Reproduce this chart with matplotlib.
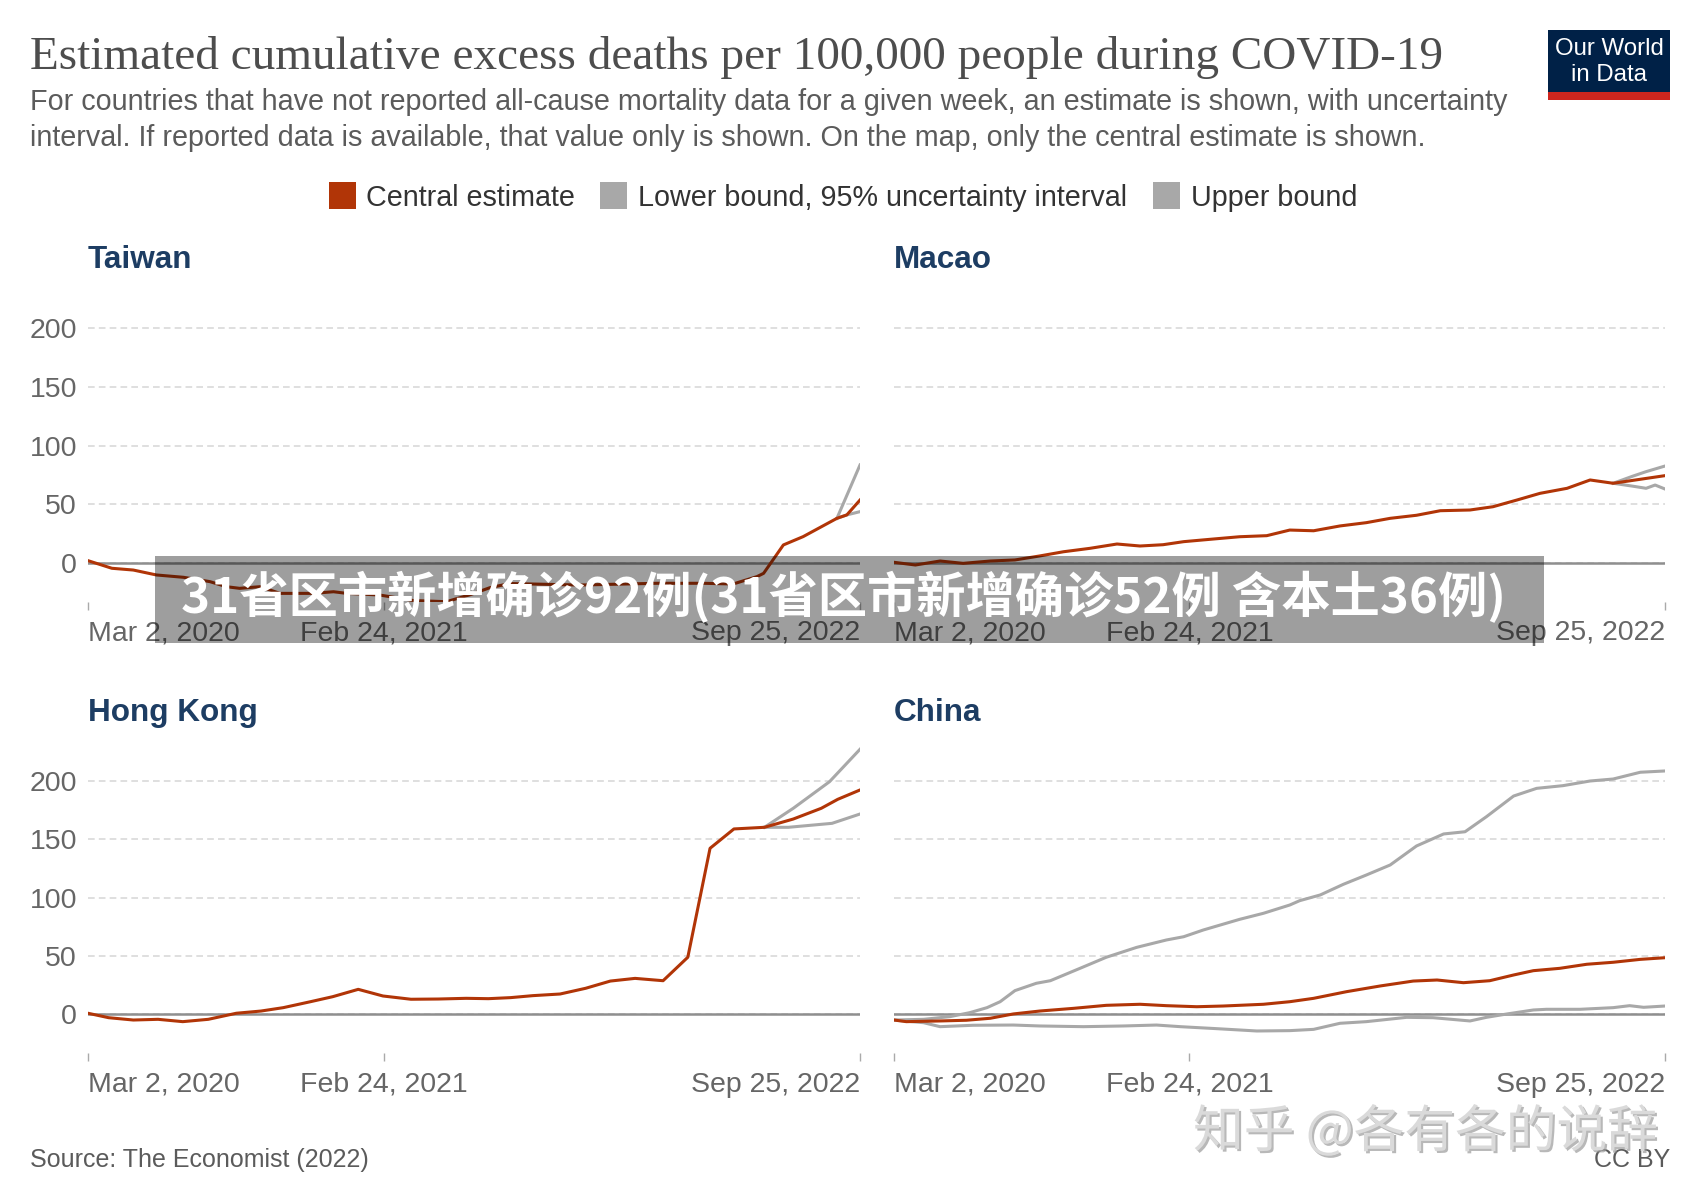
import numpy as np
import matplotlib
matplotlib.use('Agg')
import matplotlib.pyplot as plt
from matplotlib.patches import Rectangle
import matplotlib.patheffects as pe

plt.rcParams['font.family'] = ['Liberation Sans', 'DejaVu Sans']

# ---- data ----
x_start, x_end = '2020-03-02', '2022-09-25'
tick_dates = ['2020-03-02', '2021-02-24', '2022-09-25']
tick_labels = ['Mar 2, 2020', 'Feb 24, 2021', 'Sep 25, 2022']
y_ticks = [0, 50, 100, 150, 200]

taiwan_dates = ['2020-03-02', '2020-03-31', '2020-04-26', '2020-05-24', '2020-06-26', '2020-07-28',
                '2020-08-17', '2020-09-02', '2020-09-27', '2020-10-21', '2020-11-30', '2020-12-25',
                '2021-01-10', '2021-02-19', '2021-04-01', '2021-05-11', '2021-06-09', '2021-07-03',
                '2021-07-27', '2021-10-20', '2022-01-21', '2022-03-19', '2022-04-24', '2022-05-23',
                '2022-05-31', '2022-06-24', '2022-07-18', '2022-08-28', '2022-09-09', '2022-09-25']
taiwan_central = [2, -4.5, -6, -10.2, -12.2, -15.9, -20.2, -21.6, -20.2, -25.9, -25.9, -24.5,
                  -25.9, -27.3, -32, -33, -27, -21, -17.5, -18.8, -17.3, -17.3, -17.9, -11.6,
                  -8.8, 15.4, 22.5, 38.1, 41, 53.7]
taiwan_upper_dates = ['2022-08-28', '2022-09-25']
taiwan_upper = [38.1, 83.6]
taiwan_lower_dates = ['2022-08-28', '2022-09-09', '2022-09-25']
taiwan_lower = [38.1, 41, 43.8]

macao_dates = ['2020-03-02', '2020-03-28', '2020-04-27', '2020-05-25', '2020-06-27', '2020-07-27',
               '2020-08-26', '2020-09-24', '2020-10-26', '2020-11-28', '2020-12-26', '2021-01-23',
               '2021-02-17', '2021-03-21', '2021-04-26', '2021-05-29', '2021-06-26', '2021-07-25',
               '2021-08-26', '2021-09-27', '2021-10-26', '2021-11-27', '2021-12-26', '2022-01-31',
               '2022-02-28', '2022-03-29', '2022-04-26', '2022-05-29', '2022-06-26', '2022-07-24',
               '2022-08-26', '2022-09-25']
macao_central = [0.6, -1.7, 1.7, -0.3, 1.7, 2.6, 6, 9.6, 12.5, 16.2, 14.5, 15.6,
                 18.2, 20.2, 22.4, 23.3, 28.1, 27.5, 31.6, 34.4, 38.1, 40.7, 44.6, 45.2,
                 48, 53.7, 59.4, 63.7, 70.8, 68, 71.4, 74.5]
macao_upper_dates = ['2022-07-24', '2022-08-17', '2022-09-02', '2022-09-25']
macao_upper = [68, 74.1, 77.9, 82.7]
macao_lower_dates = ['2022-07-24', '2022-08-17', '2022-09-02', '2022-09-13', '2022-09-25']
macao_lower = [68, 65.5, 63.7, 66.5, 63.1]

hk_dates = ['2020-03-02', '2020-03-27', '2020-04-26', '2020-05-26', '2020-06-25', '2020-07-26',
            '2020-08-29', '2020-09-28', '2020-10-25', '2020-11-27', '2020-12-24', '2021-01-24',
            '2021-02-23', '2021-03-29', '2021-05-01', '2021-06-04', '2021-07-01', '2021-07-28',
            '2021-08-24', '2021-09-26', '2021-10-27', '2021-11-26', '2021-12-26', '2022-01-29',
            '2022-02-28', '2022-03-27', '2022-04-25', '2022-06-01', '2022-07-06', '2022-08-09',
            '2022-08-29', '2022-09-25']
hk_central = [0.9, -2.9, -4.9, -4.3, -6.3, -4.3, 0.9, 2.8, 5.7, 10.8, 15.1, 21.4,
              15.7, 12.9, 13.1, 13.7, 13.4, 14.3, 16, 17.4, 22.3, 28.5, 30.8, 28.8,
              48.9, 142.3, 158.9, 160.3, 167.4, 176.6, 184.3, 192.3]
hk_upper_dates = ['2022-06-01', '2022-07-06', '2022-08-19', '2022-09-25']
hk_upper = [160.3, 176.6, 199.4, 227.2]
hk_lower_dates = ['2022-06-01', '2022-06-30', '2022-08-22', '2022-09-25']
hk_lower = [160.3, 160.3, 163.7, 171.7]

china_dates = ['2020-03-02', '2020-03-17', '2020-04-27', '2020-05-29', '2020-06-27', '2020-07-25',
               '2020-08-26', '2020-10-06', '2020-11-15', '2020-12-26', '2021-01-27', '2021-03-05',
               '2021-04-06', '2021-05-25', '2021-06-26', '2021-07-25', '2021-09-03', '2021-10-14',
               '2021-11-23', '2021-12-22', '2022-01-23', '2022-02-24', '2022-03-25', '2022-04-18',
               '2022-05-20', '2022-06-22', '2022-07-24', '2022-08-26', '2022-09-25']
china_central = [-4.9, -6.3, -5.7, -5.1, -3.4, 0.3, 2.8, 5.1, 7.7, 8.6, 7.4, 6.5,
                 7.1, 8.6, 10.8, 13.7, 19.4, 24.3, 28.5, 29.4, 27.1, 28.8, 33.7, 37.4,
                 39.4, 42.9, 44.6, 47.1, 48.5]
china_upper_dates = ['2020-03-02', '2020-04-07', '2020-05-09', '2020-06-02', '2020-06-23', '2020-07-09',
                     '2020-07-27', '2020-08-22', '2020-09-08', '2020-10-14', '2020-11-15', '2020-12-22',
                     '2021-01-27', '2021-02-17', '2021-03-13', '2021-04-26', '2021-05-25', '2021-06-26',
                     '2021-07-08', '2021-08-02', '2021-08-30', '2021-09-27', '2021-10-26', '2021-11-27',
                     '2021-12-30', '2022-01-25', '2022-02-20', '2022-03-25', '2022-04-22', '2022-05-24',
                     '2022-06-26', '2022-07-24', '2022-08-26', '2022-09-25']
china_upper = [-4.9, -4.3, -2, 1.4, 5.7, 10.8, 20.3, 26.6, 28.8, 39.4, 48.9, 57.4,
               63.7, 66.5, 72.3, 81.4, 86.6, 93.7, 97.4, 102.3, 111.4, 119.4, 128, 144.3,
               154.6, 156.5, 169.4, 187.1, 193.7, 196, 200, 201.7, 207.5, 208.6]
china_lower_dates = ['2020-03-02', '2020-04-07', '2020-04-27', '2020-06-06', '2020-07-25', '2020-08-26',
                     '2020-10-18', '2020-12-06', '2021-01-15', '2021-02-13', '2021-03-29', '2021-05-17',
                     '2021-06-26', '2021-07-25', '2021-08-26', '2021-09-27', '2021-11-15', '2021-12-17',
                     '2022-01-31', '2022-02-20', '2022-03-17', '2022-04-18', '2022-05-04', '2022-06-14',
                     '2022-07-24', '2022-08-13', '2022-08-30', '2022-09-25']
china_lower = [-4.9, -7.2, -10.6, -9.4, -9.2, -10, -10.6, -10, -9.2, -10.6, -12.3, -14.3,
               -14, -12.9, -7.7, -6.3, -2.6, -2.9, -5.7, -2.6, 0.3, 3.7, 4.3, 4.3,
               5.7, 7.4, 6, 7.1]

panels = [
    ('Taiwan', taiwan_dates, taiwan_central, taiwan_lower_dates, taiwan_lower, taiwan_upper_dates, taiwan_upper),
    ('Macao', macao_dates, macao_central, macao_lower_dates, macao_lower, macao_upper_dates, macao_upper),
    ('Hong Kong', hk_dates, hk_central, hk_lower_dates, hk_lower, hk_upper_dates, hk_upper),
    ('China', china_dates, china_central, china_lower_dates, china_lower, china_upper_dates, china_upper),
]

# ---- styling ----
W, H = 1700, 1200
CENTRAL = '#b13507'
BOUND = '#a8a8a8'
GREY_TEXT = '#5b5b5b'
AXIS_TEXT = '#666666'
TITLE_BLUE = '#1d3d63'

fig = plt.figure(figsize=(W / 100, H / 100), dpi=100)
fig.patch.set_facecolor('white')


def d(lst):
    return np.array(lst, dtype='datetime64[D]')


# axes boxes in pixels: left, top, right, bottom
boxes = [(88, 293.3, 860, 601.7), (894, 293.3, 1665, 601.7),
         (88, 746, 860, 1052.8), (894, 746, 1665, 1052.8)]
title_baselines = [268, 268, 721, 721]

for i, (name, dts, cen, ldts, low, udts, up) in enumerate(panels):
    l, t, r, b = boxes[i]
    ax = fig.add_axes([l / W, 1 - b / H, (r - l) / W, (b - t) / H])
    ax.set_xlim(np.datetime64(x_start), np.datetime64(x_end))
    ax.set_ylim(-33, 230)
    for s in ax.spines.values():
        s.set_visible(False)
    ax.set_yticks(y_ticks)
    ax.grid(axis='y', linestyle=(0, (4, 2.5)), color='#d9d9d9', lw=1.2, zorder=0)
    ax.axhline(0, color='#8f8f8f', lw=1.8, zorder=1.9)
    ax.tick_params(axis='y', length=0, pad=8, labelsize=20.5, labelcolor=AXIS_TEXT,
                   labelleft=(i % 2 == 0))
    ax.set_xticks(d(tick_dates))
    ax.set_xticklabels(tick_labels)
    ax.tick_params(axis='x', direction='out', length=6, width=1, color='#aaaaaa',
                   pad=7.5, labelsize=20.5, labelcolor=AXIS_TEXT)
    labs = ax.get_xticklabels()
    labs[0].set_ha('left')
    labs[-1].set_ha('right')

    ax.plot(d(ldts), low, color=BOUND, lw=2.2, zorder=2, solid_joinstyle='round')
    ax.plot(d(udts), up, color=BOUND, lw=2.2, zorder=2, solid_joinstyle='round')
    ax.plot(d(dts), cen, color=CENTRAL, lw=2.2, zorder=3, solid_joinstyle='round')

    fig.text(l / W, 1 - title_baselines[i] / H, name, fontsize=22.7, fontweight='bold',
             color=TITLE_BLUE, va='baseline', ha='left')

# ---- header ----
fig.text(30 / W, 1 - 69 / H, 'Estimated cumulative excess deaths per 100,000 people during COVID-19',
         family=['Liberation Serif', 'DejaVu Serif'], fontsize=34, color='#4d4d4d',
         va='baseline', ha='left')
fig.text(30 / W, 1 - 110.5 / H,
         'For countries that have not reported all-cause mortality data for a given week, an estimate is shown, with uncertainty',
         fontsize=20.7, color=GREY_TEXT, va='baseline', ha='left')
fig.text(30 / W, 1 - 145.5 / H,
         'interval. If reported data is available, that value only is shown. On the map, only the central estimate is shown.',
         fontsize=20.7, color=GREY_TEXT, va='baseline', ha='left')

# legend
legend_items = [('Central estimate', CENTRAL, 328.5, 366.5),
                ('Lower bound, 95% uncertainty interval', BOUND, 600, 637.5),
                ('Upper bound', BOUND, 1153, 1191)]
for label, col, sx, tx in legend_items:
    fig.patches.append(Rectangle((sx / W, 1 - 209 / H), 27 / W, 27 / H,
                                 transform=fig.transFigure, facecolor=col, edgecolor='none'))
    fig.text(tx / W, 1 - 198.5 / H, label, fontsize=20.7, color='#333333', va='center', ha='left')

# logo
fig.patches.append(Rectangle((1548 / W, 1 - 100 / H), 122 / W, 70 / H,
                             transform=fig.transFigure, facecolor='#002147', edgecolor='none'))
fig.patches.append(Rectangle((1548 / W, 1 - 100 / H), 122 / W, 8 / H,
                             transform=fig.transFigure, facecolor='#ce261e', edgecolor='none'))
fig.text(1609 / W, 1 - 49 / H, 'Our World', fontsize=17.3, color='white', ha='center', va='center')
fig.text(1609 / W, 1 - 75 / H, 'in Data', fontsize=17.3, color='white', ha='center', va='center')

# footer
fig.text(30 / W, 1 - 1167 / H, 'Source: The Economist (2022)', fontsize=18, color=GREY_TEXT,
         va='baseline', ha='left')
fig.text(1670 / W, 1 - 1167 / H, 'CC BY', fontsize=18, color=GREY_TEXT, va='baseline', ha='right')

# overlaid banner and watermark
fig.patches.append(Rectangle((155 / W, 1 - 643 / H), 1389 / W, 87 / H,
                             transform=fig.transFigure, facecolor='black', alpha=0.38,
                             edgecolor='none', zorder=10))
fig.text(181 / W, 1 - 597 / H, '31省区市新增确诊92例(31省区市新增确诊52例 含本土36例)',
         family=['Noto Sans CJK SC', 'DejaVu Sans'], fontweight='heavy', fontsize=35.5,
         color='white', va='center', ha='left', zorder=11)
fig.text(1193 / W, 1 - 1133 / H, '知乎 @各有各的说辞',
         family=['Noto Sans CJK SC', 'DejaVu Sans'], fontsize=36.5, color='#dadada',
         va='center', ha='left', zorder=11,
         path_effects=[pe.SimplePatchShadow(offset=(1.5, -1.5), shadow_rgbFace='#9a9a9a', alpha=0.7),
                       pe.Normal()])

fig.savefig('out.png', dpi=100)
